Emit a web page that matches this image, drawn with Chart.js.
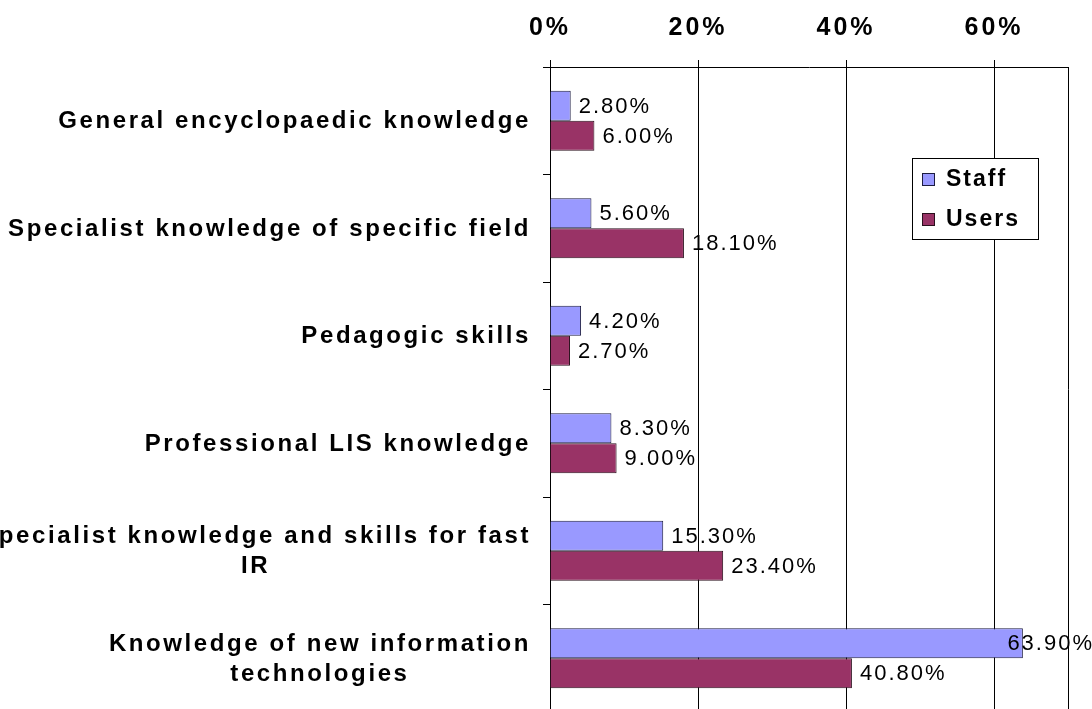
<!DOCTYPE html>
<html>
<head>
<meta charset="utf-8">
<script src="https://cdn.jsdelivr.net/npm/chart.js@4.4.0/dist/chart.umd.min.js"></script>
<style>
  html, body { margin: 0; padding: 0; background: #fff; overflow: hidden; }
  #wrap { width: 1092px; height: 712px; }
</style>
</head>
<body>
<div id="wrap"><canvas id="skillsChart"></canvas></div>
<script>
// data
const categories = [
    ['General encyclopaedic knowledge'],
    ['Specialist knowledge of specific field'],
    ['Pedagogic skills'],
    ['Professional LIS knowledge'],
    ['Specialist knowledge and skills for fast', 'IR'],
    ['Knowledge of new information', 'technologies']
];
const seriesNames = ['Staff', 'Users'];
const staffValues = [2.8, 5.6, 4.2, 8.3, 15.3, 63.9];
const usersValues = [6.0, 18.1, 2.7, 9.0, 23.4, 40.8];
const tickValues = [0, 20, 40, 60];

const FONT = '"Liberation Sans", Arial, sans-serif';
const colors = ['#9999FF', '#993366'];
const borders = ['#1c1c40', '#2a0f1c'];

// spaced-out text like the old Excel export
const spacing = {
    id: 'spacing',
    beforeDraw(chart) { chart.ctx.letterSpacing = '3px'; },
    afterDraw(chart) { chart.ctx.letterSpacing = '0px'; }
};

// right edge of the plot area (the 70% gridline is not a tick)
const plotFrame = {
    id: 'plotFrame',
    beforeDatasetsDraw(chart) {
        const { ctx, chartArea: a } = chart;
        ctx.save();
        ctx.strokeStyle = '#000';
        ctx.lineWidth = 1;
        ctx.beginPath();
        ctx.moveTo(Math.round(a.right) + 0.5, a.top);
        ctx.lineTo(Math.round(a.right) + 0.5, a.bottom);
        ctx.stroke();
        ctx.restore();
    }
};

// category labels: block right aligned, lines centered inside it
const catLabels = {
    id: 'catLabels',
    afterDraw(chart) {
        const { ctx, scales: { y } } = chart;
        ctx.save();
        ctx.font = 'bold 24px ' + FONT;
        ctx.letterSpacing = '2.6px';
        ctx.fillStyle = '#000';
        ctx.textAlign = 'center';
        ctx.textBaseline = 'middle';
        const right = chart.chartArea.left - 19;
        categories.forEach((lines, i) => {
            const cy = y.getPixelForTick(i);
            const w = Math.max(...lines.map(l => ctx.measureText(l).width));
            const cx = right - w / 2;
            lines.forEach((l, j) => {
                ctx.fillText(l, cx, cy + 1 + (j - (lines.length - 1) / 2) * 30);
            });
        });
        ctx.restore();
    }
};

// value labels at the end of each bar
const valueLabels = {
    id: 'valueLabels',
    afterDatasetsDraw(chart) {
        const { ctx } = chart;
        ctx.save();
        ctx.font = '22px ' + FONT;
        ctx.letterSpacing = '2px';
        ctx.fillStyle = '#000';
        ctx.textAlign = 'left';
        ctx.textBaseline = 'middle';
        chart.data.datasets.forEach((ds, di) => {
            chart.getDatasetMeta(di).data.forEach((bar, i) => {
                const txt = ds.data[i].toFixed(2) + '%';
                const w = ctx.measureText(txt).width;
                let x = bar.x + 8;
                if (x + w > chart.width) x = chart.width - w + 2;
                ctx.fillText(txt, x, bar.y + 1);
            });
        });
        ctx.restore();
    }
};

// boxed legend inside the plot area
const boxLegend = {
    id: 'boxLegend',
    afterDraw(chart) {
        const { ctx, chartArea: a } = chart;
        const x0 = a.right - 156, y0 = a.top + 91, w = 126, h = 81;
        ctx.save();
        ctx.fillStyle = '#fff';
        ctx.fillRect(x0, y0, w, h);
        ctx.strokeStyle = '#000';
        ctx.lineWidth = 1;
        ctx.strokeRect(x0 + 0.5, y0 + 0.5, w, h);
        ctx.font = 'bold 23px ' + FONT;
        ctx.letterSpacing = '2px';
        ctx.textBaseline = 'alphabetic';
        chart.data.datasets.forEach((ds, i) => {
            const ry = y0 + 15 + i * 40;
            ctx.fillStyle = ds.backgroundColor;
            ctx.fillRect(x0 + 10, ry, 12, 12);
            ctx.strokeStyle = ds.borderColor;
            ctx.strokeRect(x0 + 10.5, ry + 0.5, 12, 12);
            ctx.fillStyle = '#000';
            ctx.fillText(ds.label, x0 + 34, ry + 13);
        });
        ctx.restore();
    }
};

const ctx = document.getElementById('skillsChart').getContext('2d');
new Chart(ctx, {
    type: 'bar',
    data: {
        labels: categories,
        datasets: [
            { label: seriesNames[0], data: staffValues, backgroundColor: colors[0], borderColor: borders[0], borderWidth: 1 },
            { label: seriesNames[1], data: usersValues, backgroundColor: colors[1], borderColor: borders[1], borderWidth: 1 }
        ]
    },
    options: {
        indexAxis: 'y',
        responsive: true,
        maintainAspectRatio: false,
        animation: false,
        categoryPercentage: 0.56,
        barPercentage: 1,
        layout: { padding: { top: 0, right: 24, bottom: 0, left: 0 } },
        plugins: { legend: { display: false }, tooltip: { enabled: false } },
        scales: {
            x: {
                position: 'top',
                min: 0,
                max: 70,
                afterBuildTicks: s => { s.ticks = tickValues.map(v => ({ value: v })); },
                afterFit: s => { s.height = 67; },
                grid: { color: '#000', lineWidth: 1, tickLength: 7 },
                border: { color: '#000', width: 1 },
                ticks: {
                    callback: v => v + '%',
                    color: '#000',
                    padding: 17,
                    maxRotation: 0,
                    font: { family: FONT, size: 25, weight: 'bold' }
                }
            },
            y: {
                afterFit: s => { s.width = 550; },
                grid: { drawOnChartArea: false, offset: true, tickLength: 7, color: '#000' },
                border: { color: '#000', width: 1 },
                ticks: { display: false }
            }
        }
    },
    plugins: [spacing, plotFrame, catLabels, valueLabels, boxLegend]
});
</script>
</body>
</html>
